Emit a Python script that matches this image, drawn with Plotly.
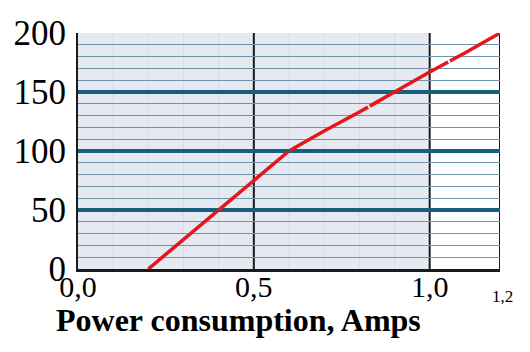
import plotly.graph_objects as go

amps = [0.2, 0.3, 0.4, 0.5, 0.6, 0.7, 0.8, 0.9, 1.0, 1.1, 1.2]
values = [0, 25, 50, 75, 100, 117, 133, 150, 167, 183, 200]

x_tickvals = [0.0, 0.5, 1.0]
x_ticktext = ["0,0", "0,5", "1,0"]
x_title = "Power consumption, Amps"
last_tick = "1,2"

SERIF = "Liberation Serif"

fig = go.Figure()
fig.add_trace(go.Scatter(
    x=amps, y=values, mode="lines",
    line=dict(color="#e8151b", width=3.5, dash="90px,2px"),
    cliponaxis=False, showlegend=False, hoverinfo="skip",
))

shapes = []
shapes.append(dict(type="rect", xref="x", yref="y", x0=0, x1=1.0, y0=0, y1=200,
                   fillcolor="#e6e9f1", line=dict(width=0), layer="below"))
for xv in [0.1, 0.2, 0.3, 0.4, 0.6, 0.7, 0.8, 0.9]:
    shapes.append(dict(type="line", xref="x", yref="y", x0=xv, x1=xv, y0=0, y1=200,
                       line=dict(color="#d6dbe6", width=1), layer="below"))
for xv in [0.5, 1.0, 1.2]:
    shapes.append(dict(type="line", xref="x", yref="y", x0=xv, x1=xv, y0=0, y1=200,
                       line=dict(color="#1a1a1a", width=2), layer="below"))

fig.update_layout(
    width=530, height=352,
    margin=dict(l=78, r=30, t=33, b=83),
    paper_bgcolor="white", plot_bgcolor="white",
    shapes=shapes,
    xaxis=dict(
        range=[0, 1.2], tickvals=x_tickvals, ticktext=x_ticktext,
        showgrid=False, zeroline=False,
        showline=True, linecolor="#1a1a1a", linewidth=3,
        tickfont=dict(family=SERIF, size=30, color="black"),
        ticks="", ticklabelstandoff=-11,
    ),
    yaxis=dict(
        range=[0, 200], tickmode="linear", tick0=0, dtick=50,
        showgrid=True, gridcolor="#17607d", gridwidth=4,
        minor=dict(tickmode="linear", tick0=0, dtick=10, showgrid=True,
                   gridcolor="#6f95a8", gridwidth=1.3),
        zeroline=False,
        showline=True, linecolor="#1a1a1a", linewidth=2,
        tickfont=dict(family=SERIF, size=35, color="black"),
        ticks="", ticklabelstandoff=3,
    ),
)

fig.add_annotation(x=1.2, y=0, xref="x", yref="y", text=last_tick, showarrow=False,
                   font=dict(family=SERIF, size=17, color="black"),
                   xanchor="center", yanchor="middle", xshift=2, yshift=-27)

fig.add_annotation(x=0.38, y=-0.218, xref="paper", yref="paper",
                   text="<b>" + x_title + "</b>", showarrow=False,
                   font=dict(family=SERIF, size=32, color="black"),
                   xanchor="center", yanchor="middle")

fig.write_html("out.html")
